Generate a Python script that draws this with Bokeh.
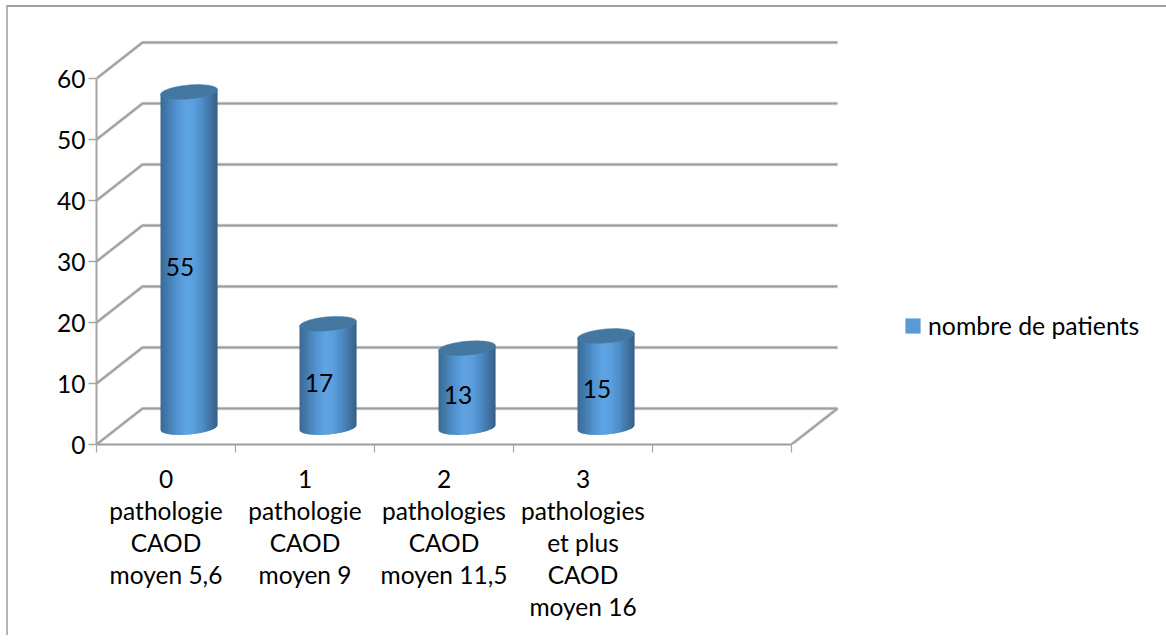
import numpy as np
from bokeh.plotting import figure
from bokeh.embed import file_html
from bokeh.resources import INLINE
from bokeh.models import Range1d, LinearAxis, FixedTicker, Legend, LegendItem
from bokeh.core.properties import value

categories = ["0\npathologie\nCAOD\nmoyen 5,6", "1\npathologie\nCAOD\nmoyen 9",
              "2\npathologies\nCAOD\nmoyen 11,5", "3\npathologies\net plus\nCAOD\nmoyen 16"]
patients = [55, 17, 13, 15]
y_ticks = [0, 10, 20, 30, 40, 50, 60]
series_name = "nombre de patients"

FONT = "Lato"
FS = "24.5px"
GREY = "#9c9c9c"
PX_X, PX_Y = 139.0, 6.1
DX, DY = 46 / PX_X, 36 / PX_Y
N_SLOTS = 5

p = figure(width=1150, height=628, frame_width=745, frame_height=405,
           min_border_left=88, min_border_right=317, min_border_top=32, min_border_bottom=191,
           x_range=Range1d(0, 745 / PX_X), y_range=Range1d(0, 405 / PX_Y),
           output_backend="svg", toolbar_location=None, x_axis_location=None, y_axis_location=None,
           styles={"margin-left": "6px", "margin-top": "5px",
                   "border-top": "2px solid #a0a0a0", "border-left": "2px solid #b4b4b4"})
p.grid.visible = False
p.outline_line_color = None

# 3-D wall and floor
for col, w in (("#dcdcdc", 3.5), (GREY, 1.8)):
    xs, ys = [], []
    for v in y_ticks:
        xs.append([0, DX, N_SLOTS + DX])
        ys.append([v, v + DY, v + DY])
    xs.append([N_SLOTS, N_SLOTS + DX])
    ys.append([0, DY])
    p.multi_line(xs, ys, line_color=col, line_width=w)

# cylinders
stops_t = [-1.0, -0.75, -0.45, -0.12, 0.15, 0.45, 0.75, 1.0]
stops_c = np.array([[0x3c, 0x69, 0x92], [0x44, 0x7b, 0xae], [0x52, 0x91, 0xcd], [0x5e, 0xa3, 0xe2],
                    [0x5c, 0xa0, 0xde], [0x4f, 0x8d, 0xc8], [0x41, 0x74, 0xa5], [0x35, 0x60, 0x86]], float)
HALF = 28.5 / PX_X
SHIFT = 23 / PX_X
BASE = 17 / PX_Y
B = 7 / PX_Y
TILT = 2.4 / PX_Y
edges = np.linspace(-1, 1, 49)

sx, sy, sc = [], [], []
tx, ty = [], []
lx, ly = [], []
for i, val in enumerate(patients):
    cx = i + 0.5 + SHIFT
    for a, b in zip(edges[:-1], edges[1:]):
        m = (a + b) / 2
        c = [int(round(np.interp(m, stops_t, stops_c[:, k]))) for k in range(3)]
        bb = min(b + 0.03, 1.0)
        us = np.linspace(a, bb, 4)
        low = BASE + TILT * us - B * np.sqrt(np.clip(1 - us ** 2, 0, 1))
        sx.append(list(cx + HALF * us) + list(cx + HALF * us[::-1]))
        sy.append(list(low) + [val + BASE + TILT * u for u in us[::-1]])
        sc.append("#%02x%02x%02x" % tuple(c))
    th = np.linspace(0, 2 * np.pi, 60)
    tx.append(list(cx + HALF * np.cos(th)))
    ty.append(list(val + BASE + TILT * np.cos(th) + B * np.sin(th)))
    lx.append(cx - 9 / PX_X)
    ly.append(val / 2 + BASE - 7 / PX_Y)
p.patches(sx, sy, fill_color=sc, line_color=None)
p.patches(tx, ty, fill_color="#43779f", line_color="#4a7fab", line_width=0.5)

p.text(lx, ly, text=[str(v) for v in patients], text_font=value(FONT), text_font_size=FS,
       text_color="#000000", text_align="center", text_baseline="middle")

# axes
ya = LinearAxis(ticker=FixedTicker(ticks=y_ticks), bounds=(0, 60))
ya.axis_line_color = "#a6a6a6"
ya.axis_line_width = 2
ya.major_tick_line_color = "#a6a6a6"
ya.major_tick_line_width = 1.5
ya.major_tick_out = 8
ya.major_tick_in = 0
ya.minor_tick_line_color = None
ya.major_label_text_font = FONT
ya.major_label_text_font_size = FS
ya.major_label_text_color = "#000000"
ya.major_label_standoff = 3
p.add_layout(ya, "left")

centres = [i + 0.5 for i in range(len(categories))]
xa = LinearAxis(ticker=FixedTicker(ticks=centres, minor_ticks=list(range(N_SLOTS + 1))), bounds=(0, N_SLOTS))
xa.major_label_overrides = {c: l for c, l in zip(centres, categories)}
xa.axis_line_color = GREY
xa.axis_line_width = 2
xa.major_tick_line_color = None
xa.minor_tick_line_color = "#a6a6a6"
xa.minor_tick_line_width = 1.2
xa.minor_tick_out = 8
xa.minor_tick_in = 0
xa.major_label_text_font = FONT
xa.major_label_text_font_size = FS
xa.major_label_text_color = "#000000"
xa.major_label_text_line_height = 1.105
xa.major_label_standoff = 11
xa.major_label_orientation = "horizontal"
p.add_layout(xa, "below")

# legend
swatch = p.quad(left=[float("nan")], right=[float("nan")], top=[float("nan")], bottom=[float("nan")],
                fill_color="#5b9bd5", line_color=None)
legend = Legend(items=[LegendItem(label=series_name, renderers=[swatch])],
                location=(62, 104), orientation="vertical",
                glyph_width=19, glyph_height=19, label_standoff=6, margin=0, padding=0,
                border_line_color=None, background_fill_alpha=0,
                label_text_font=FONT, label_text_font_size="24.8px", label_text_color="#000000")
p.add_layout(legend, "right")

open("out.html", "w").write(file_html(p, INLINE))
